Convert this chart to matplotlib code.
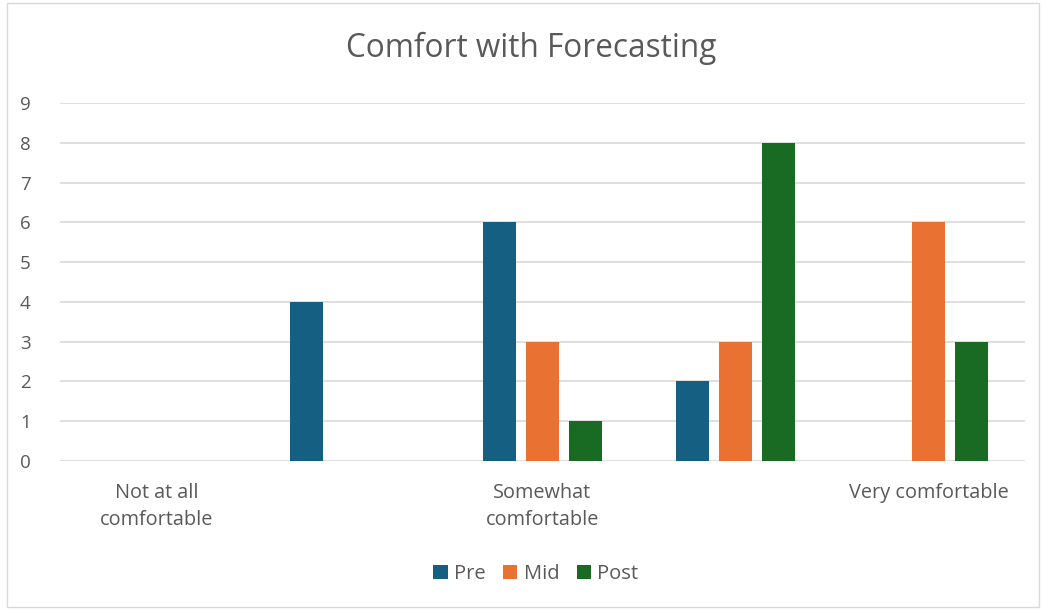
import numpy as np
import matplotlib.pyplot as plt
from matplotlib.patches import Rectangle

# Comfort levels, only every other level is labelled on the axis
categories = ["Not at all\ncomfortable", "", "Somewhat\ncomfortable", "", "Very comfortable"]
pre = [0, 4, 6, 2, 0]
mid = [0, 0, 3, 3, 6]
post = [0, 0, 1, 8, 3]

colors = ["#156082", "#E97132", "#196B24"]
text_color = "#595959"

plt.rcParams['font.family'] = ['Open Sans', 'DejaVu Sans']

fig = plt.figure(figsize=(10.44, 6.11), dpi=100)
ax = fig.add_axes([60 / 1044, 1 - 461 / 611, 965 / 1044, 358 / 611])

x = np.arange(len(categories))
width = 0.171
step = 0.223
for i, (vals, lab) in enumerate(zip([pre, mid, post], ["Pre", "Mid", "Post"])):
    ax.bar(x + (i - 1) * step, vals, width, color=colors[i], label=lab, zorder=3)

ax.set_xlim(-0.5, len(categories) - 0.5)
ax.set_ylim(0, 9)
ax.set_yticks(range(10))
ax.set_xticks(x)
ax.set_xticklabels(categories, fontsize=14.3, color=text_color, linespacing=1.45)
ax.tick_params(axis='y', labelsize=13.5, labelcolor=text_color, length=0, pad=21)
ax.tick_params(axis='x', length=0, pad=16)
ax.yaxis.grid(True, color="#D9D9D9", linewidth=1.2, zorder=0)
for s in ax.spines.values():
    s.set_visible(False)

fig.suptitle("Comfort with Forecasting", x=531 / 1044, y=1 - 48 / 611, va='center',
             fontsize=22.7, color=text_color)

fig.legend(loc='center', bbox_to_anchor=(536 / 1044, 1 - 574 / 611), ncol=3,
           frameon=False, fontsize=14.5, labelcolor=text_color, handlelength=0.7,
           handleheight=0.7, handletextpad=0.3, columnspacing=0.9)

fig.patches.append(Rectangle((7 / 1044, 4 / 611), 1032 / 1044, 604 / 611,
                             transform=fig.transFigure, fill=False,
                             edgecolor="#D9D9D9", linewidth=1))

fig.savefig("out.png", dpi=100)
